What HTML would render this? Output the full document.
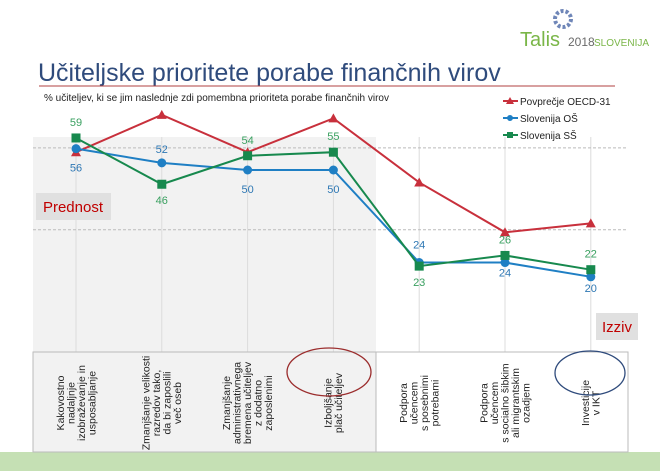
<!DOCTYPE html>
<html><head><meta charset="utf-8"><style>
body{margin:0;width:660px;height:471px;overflow:hidden;background:#fff;font-family:"Liberation Sans",sans-serif}
</style></head><body>
<svg width="660" height="471" xmlns="http://www.w3.org/2000/svg" id="svg" font-family="Liberation Sans, sans-serif">
<rect x="0" y="452" width="660" height="19" fill="#c5e0b4"/>
<rect x="33" y="137" width="343" height="315" fill="#f2f2f2"/>
<g>
<circle cx="563" cy="19" r="8" fill="none" stroke="#6f86b8" stroke-width="4" stroke-dasharray="3 2"/>
<text x="520" y="46" font-size="20" fill="#7ab648">Talis</text>
<text x="568" y="46" font-size="12" fill="#6a6a6a">2018</text>
<text x="594" y="46" font-size="10" fill="#7ab648">SLOVENIJA</text>
</g>
<text x="38" y="81" font-size="25" fill="#2f4b7c">Učiteljske prioritete porabe finančnih virov</text>
<line x1="39" y1="86" x2="615" y2="86" stroke="#b04040" stroke-width="1"/>
<text x="44" y="101" font-size="10" fill="#222">% učiteljev, ki se jim naslednje zdi pomembna prioriteta porabe finančnih virov</text>
<g id="grid"></g>
<g id="series"></g>
<g id="legend"></g>
<rect x="33" y="352" width="595" height="100" fill="none" stroke="#bbb"/>
<line x1="376" y1="352" x2="376" y2="452" stroke="#bbb"/>
<g id="xlabels"></g>
<rect x="36" y="193" width="75" height="27" fill="#e0e0e0"/>
<text x="73" y="212" font-size="15" fill="#c00000" text-anchor="middle">Prednost</text>
<rect x="596" y="313" width="42" height="27" fill="#e0e0e0"/>
<text x="617" y="332" font-size="15" fill="#c00000" text-anchor="middle">Izziv</text>
<ellipse cx="329" cy="372" rx="42" ry="24" fill="none" stroke="#9b2d2d" stroke-width="1.3"/>
<ellipse cx="590" cy="373" rx="35" ry="22" fill="none" stroke="#2f4b7c" stroke-width="1.3"/>
</svg>
<script>
const categories=[["Kakovostno","nadaljnje","izobraževanje in","usposabljanje"],["Zmanjšanje velikosti","razredov tako,","da bi zaposlili","več oseb"],["Zmanjšanje","administrativnega","bremena učiteljev","z dodatno","zaposlenimi"],["Izboljšanje","plač učiteljev"],["Podpora","učencem","s posebnimi","potrebami"],["Podpora","učencem","s socialno šibkim","ali migrantskim","ozadjem"],["Investicije","v IKT"]];
const oecd=[55,65.5,55,64.5,46.5,32.5,35];
const os=[56,52,50,50,24,24,20];
const ss=[59,46,54,55,23,26,22];
const osLabels=[56,52,50,50,24,24,20];
const ssLabels=[59,46,54,55,23,26,22];
const gridValues=[56.2,33.2];
const NS="http://www.w3.org/2000/svg";
const X=i=>76+i*85.8, Y=v=>348-v*3.56;
function mk(tag,at,parent){const e=document.createElementNS(NS,tag);for(const k in at)e.setAttribute(k,at[k]);document.getElementById(parent).appendChild(e);return e;}
categories.forEach((c,i)=>{const l=mk('line',{x1:X(i),y1:137,x2:X(i),y2:352,stroke:'#dcdcdc'},'grid');

});
gridValues.forEach(v=>{const l=mk('line',{x1:33,y1:Y(v),x2:628,y2:Y(v),stroke:'#bbb','stroke-dasharray':'3 2'},'grid');

});
function series(vals,color,marker,name){
const p=mk('polyline',{points:vals.map((v,i)=>X(i)+','+Y(v)).join(' '),fill:'none',stroke:color,'stroke-width':2},'series');


vals.forEach((v,i)=>{let m;const x=X(i),y=Y(v);
if(marker=='tri')m=mk('polygon',{points:`${x},${y-5} ${x-5},${y+4} ${x+5},${y+4}`,fill:color},'series');
else if(marker=='sq')m=mk('rect',{x:x-4.5,y:y-4.5,width:9,height:9,fill:color},'series');
else m=mk('circle',{cx:x,cy:y,r:4.5,fill:color},'series');

});}
series(oecd,'#c8303c','tri','oecd');
series(os,'#1f7fc4','circ','slovenija-os');
series(ss,'#17894e','sq','slovenija-ss');
function lbl(v,x,y,color){const t=mk('text',{x:x,y:y,'font-size':11,fill:color,'text-anchor':'middle'},'series');t.textContent=v;

}
os.forEach((v,i)=>{
let oy=i==1?Y(v)-10:(i>=4&&i!=4?(i==5?Y(v)+14:Y(v)+15):(i==4?Y(v)-14:Y(v)+23));
lbl(osLabels[i],X(i),oy,'#2f78b4');});
ss.forEach((v,i)=>{let sy=(i==1||i==4)?Y(v)+20:Y(v)-12;lbl(ssLabels[i],X(i),sy,'#3aa060');});
const legNames=['Povprečje OECD-31','Slovenija OŠ','Slovenija SŠ'],legC=['#c8303c','#1f7fc4','#17894e'],legM=['tri','circ','sq'];
legNames.forEach((n,i)=>{const y=101+i*17;
mk('line',{x1:503,y1:y,x2:518,y2:y,stroke:legC[i],'stroke-width':2},'legend');
if(legM[i]=='tri')mk('polygon',{points:`510,${y-4} 506,${y+3} 514,${y+3}`,fill:legC[i]},'legend');
else if(legM[i]=='sq')mk('rect',{x:507,y:y-3,width:6,height:6,fill:legC[i]},'legend');
else mk('circle',{cx:510,cy:y,r:3,fill:legC[i]},'legend');
const t=mk('text',{x:520,y:y+4,'font-size':10,fill:'#222'},'legend');t.textContent=n;

});
categories.forEach((lines,i)=>{const x=X(i);const n=lines.length;
const g=mk('text',{transform:`translate(${x},403) rotate(-90)`,'font-size':10.5,fill:'#222','text-anchor':'middle'},'xlabels');


lines.forEach((s,j)=>{const ts=document.createElementNS(NS,'tspan');ts.setAttribute('x',0);ts.setAttribute('y',(j-(n-1)/2)*10.5+3.5);ts.textContent=s;g.appendChild(ts);});});
</script>
</body></html>
